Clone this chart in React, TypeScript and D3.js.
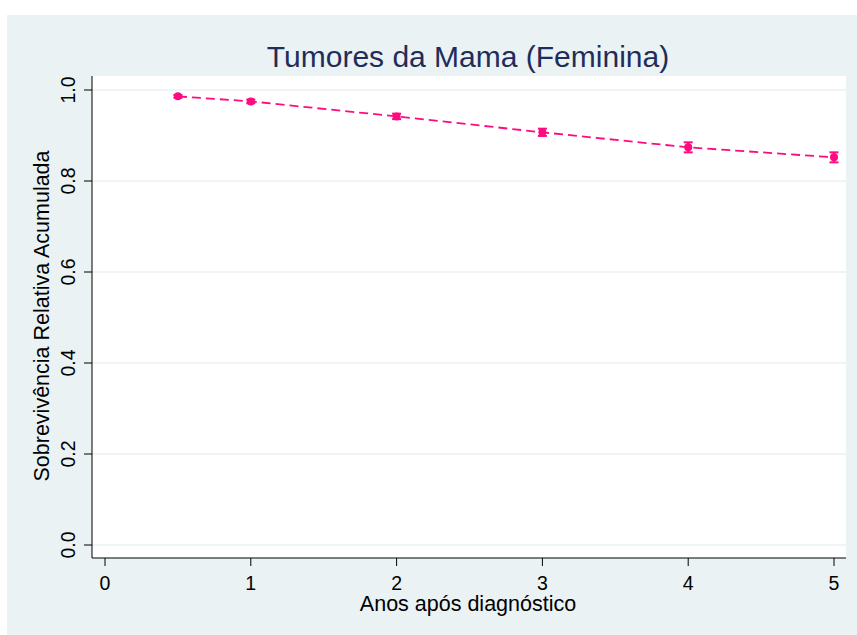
import React from "react";
import * as d3 from "d3";

const years = [0.5, 1, 2, 3, 4, 5];
const survival = [0.986, 0.975, 0.942, 0.907, 0.874, 0.852];
const errHalf = [0.003, 0.004, 0.006, 0.008, 0.011, 0.011];
const xTicks = [0, 1, 2, 3, 4, 5];
const yTicks = [0, 0.2, 0.4, 0.6, 0.8, 1.0];

const W = 857, H = 635;
const plot = { left: 92, right: 846, top: 76, bottom: 558 };
const PINK = "#ff0a80";
const FONT = "'Liberation Sans', Arial, sans-serif";

export default function App() {
  const x = d3.scaleLinear().domain([0, 5]).range([105, 834]);
  const y = d3.scaleLinear().domain([0, 1]).range([545, 90]);
  const line = d3.line<number>().x((_, i) => x(years[i])).y((d) => y(d));
  return (
    <svg width={W} height={H} style={{ position: "absolute", left: 0, top: 0 }}>
      <rect x={0} y={0} width={W} height={H} fill="#ffffff" />
      <rect x={7} y={15} width={W - 7} height={H - 15} fill="#eaf2f3" />
      <rect x={plot.left} y={plot.top} width={plot.right - plot.left} height={plot.bottom - plot.top} fill="#ffffff" />
      {yTicks.map((t) => (
        <line key={"g" + t} x1={plot.left} x2={plot.right} y1={y(t)} y2={y(t)} stroke="#eaf2f3" strokeWidth={1.5} />
      ))}
      <line x1={plot.left} x2={plot.left} y1={plot.top} y2={plot.bottom} stroke="#000" strokeWidth={1} />
      <line x1={plot.left} x2={plot.right} y1={plot.bottom} y2={plot.bottom} stroke="#000" strokeWidth={1} />
      {yTicks.map((t) => (
        <g key={"y" + t}>
          <line x1={plot.left - 8} x2={plot.left} y1={y(t)} y2={y(t)} stroke="#000" strokeWidth={1} />
          <text transform={`translate(${75},${y(t)}) rotate(-90)`} textAnchor="middle" fontFamily={FONT} fontSize={19.5} fill="#000">
            {t.toFixed(1)}
          </text>
        </g>
      ))}
      {xTicks.map((t) => (
        <g key={"x" + t}>
          <line x1={x(t)} x2={x(t)} y1={plot.bottom} y2={plot.bottom + 8} stroke="#000" strokeWidth={1} />
          <text x={x(t)} y={590} textAnchor="middle" fontFamily={FONT} fontSize={19.5} fill="#000">
            {t}
          </text>
        </g>
      ))}
      <text x={468} y={611} textAnchor="middle" fontFamily={FONT} fontSize={21.5} fill="#000">
        Anos após diagnóstico
      </text>
      <text transform={`translate(${49},${316}) rotate(-90)`} textAnchor="middle" fontFamily={FONT} fontSize={21.5} fill="#000">
        Sobrevivência Relativa Acumulada
      </text>
      <text x={468} y={67} textAnchor="middle" fontFamily={FONT} fontSize={30} fill="#1e2d5a">
        Tumores da Mama (Feminina)
      </text>
      <path d={line(survival) || ""} fill="none" stroke={PINK} strokeWidth={1.8} strokeDasharray="9,5" />
      {years.map((yr, i) => {
        const cx = x(yr);
        const lo = y(survival[i] - errHalf[i]);
        const hi = y(survival[i] + errHalf[i]);
        return (
          <g key={"p" + yr}>
            <line x1={cx} x2={cx} y1={lo} y2={hi} stroke={PINK} strokeWidth={2} />
            <line x1={cx - 4.5} x2={cx + 4.5} y1={lo} y2={lo} stroke={PINK} strokeWidth={2} />
            <line x1={cx - 4.5} x2={cx + 4.5} y1={hi} y2={hi} stroke={PINK} strokeWidth={2} />
            <circle cx={cx} cy={y(survival[i])} r={4} fill={PINK} />
          </g>
        );
      })}
    </svg>
  );
}
